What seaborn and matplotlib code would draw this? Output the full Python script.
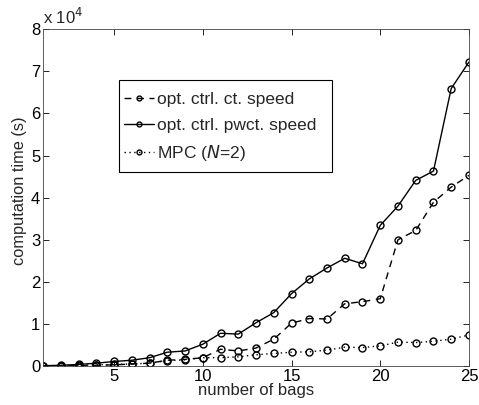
import numpy as np
import pandas as pd
import matplotlib
matplotlib.use("Agg")
import matplotlib.pyplot as plt
from matplotlib.patches import Rectangle
import seaborn as sns

# number of bags
bags = list(range(1, 26))

# computation time, units of 1e4 s
ct_speed = [0.002, 0.005, 0.01, 0.02, 0.03, 0.05, 0.07, 0.14, 0.16, 0.20,
            0.40, 0.36, 0.43, 0.64, 1.02, 1.13, 1.12, 1.48, 1.53, 1.60,
            3.00, 3.22, 3.89, 4.25, 4.53]
pwct_speed = [0.01, 0.02, 0.04, 0.07, 0.11, 0.14, 0.20, 0.33, 0.36, 0.52,
              0.78, 0.76, 1.03, 1.27, 1.72, 2.07, 2.33, 2.56, 2.43, 3.34,
              3.80, 4.41, 4.63, 6.59, 7.22]
mpc = [0.005, 0.01, 0.02, 0.03, 0.04, 0.05, 0.07, 0.13, 0.15, 0.20,
       0.20, 0.22, 0.27, 0.30, 0.33, 0.34, 0.38, 0.45, 0.44, 0.48,
       0.57, 0.56, 0.59, 0.64, 0.74]

df = pd.DataFrame({
    "bags": bags * 3,
    "time": ct_speed + pwct_speed + mpc,
    "method": (["opt. ctrl. ct. speed"] * 25 + ["opt. ctrl. pwct. speed"] * 25
               + ["MPC ($\\it{N}$=2)"] * 25),
})

sns.set_style("ticks")
plt.rcParams["font.family"] = ["Liberation Sans", "DejaVu Sans"]
plt.rcParams["xtick.direction"] = "in"
plt.rcParams["ytick.direction"] = "in"

fig = plt.figure(figsize=(4.79, 4.05), dpi=100)
ax = fig.add_axes([0.09, 0.096, 0.889, 0.832])

styles = {
    "opt. ctrl. ct. speed": (0, (5, 4)),
    "opt. ctrl. pwct. speed": "-",
    "MPC ($\\it{N}$=2)": (0, (1, 2.5)),
}
for name, ls in styles.items():
    sub = df[df["method"] == name]
    sns.lineplot(data=sub, x="bags", y="time", ax=ax, color="black",
                 linestyle=ls, linewidth=1.0, marker="o", markersize=5,
                 markerfacecolor="none", markeredgecolor="black",
                 markeredgewidth=1.0, label=name)

ax.set_xlim(1, 25)
ax.set_ylim(0, 8)
ax.set_xticks([5, 10, 15, 20, 25])
ax.set_yticks(range(0, 9))
ax.set_yticklabels([str(i) for i in range(0, 9)])
ax.tick_params(labelsize=12, top=True, right=True, length=4, width=0.6,
               colors="black", pad=2)
for s in ax.spines.values():
    s.set_linewidth(0.6)
    s.set_color("#444444")
ax.set_xlabel("number of bags", fontsize=12, labelpad=-1)
ax.set_ylabel("computation time (s)", fontsize=11.8)
ax.yaxis.set_label_coords(-0.037, 0.52)
ax.text(0.0, 1.005, "x 10$^4$", transform=ax.transAxes, fontsize=12,
        ha="left", va="bottom")

# legend: MATLAB-style box drawn separately, entries without frame
ax.add_patch(Rectangle((0.178, 0.576), 0.5, 0.273, transform=ax.transAxes,
                       facecolor="white", edgecolor="black", linewidth=0.8,
                       zorder=4))
leg = ax.legend(loc="upper left", bbox_to_anchor=(0.19, 0.813),
                borderaxespad=0, borderpad=0, fontsize=12.5, frameon=False,
                handlelength=1.7, handletextpad=0.22, labelspacing=0.6)
leg.set_zorder(5)
for h in leg.get_lines():
    h.set_markersize(3.5)

fig.savefig("out.png", dpi=100)
